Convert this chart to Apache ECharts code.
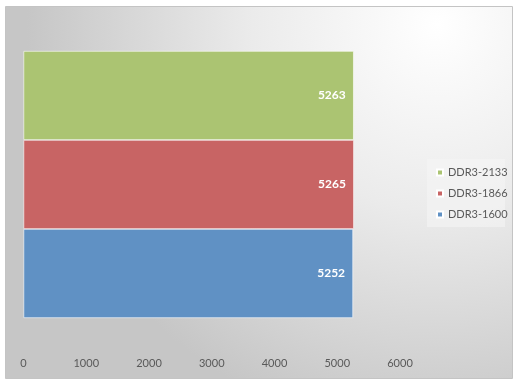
<!DOCTYPE html>
<html><head><meta charset="utf-8">
<script src="https://cdn.jsdelivr.net/npm/echarts@6/dist/echarts.min.js"></script>
<style>html,body{margin:0;padding:0;background:#fff}#c{width:518px;height:385px}</style>
</head><body><div id="c"></div>
<script>
const categories = ['DDR3'];
const seriesNames = ['DDR3-2133', 'DDR3-1866', 'DDR3-1600'];
const seriesValues = [[5263], [5265], [5252]];
const seriesColors = ['#abc472', '#c86464', '#6091c4'];
const legendOrder = ['DDR3-2133', 'DDR3-1866', 'DDR3-1600'];
const xTicks = [0, 1000, 2000, 3000, 4000, 5000, 6000];

const chart = echarts.init(document.getElementById('c'));
chart.setOption({
  backgroundColor: '#ffffff',
  animation: false,
  graphic: [{
    type: 'rect', z: -10, silent: true,
    shape: {x: 5.5, y: 6.5, width: 507, height: 372},
    style: {
      fill: {type: 'radial', x: 0.85, y: 0.05, r: 1.1,
        colorStops: [{offset: 0, color: '#ffffff'}, {offset: 0.45, color: '#ebebeb'}, {offset: 1, color: '#c6c6c6'}]},
      stroke: '#c4c4c4', lineWidth: 1
    }
  }, {
    type: 'rect', z: -5, silent: true,
    shape: {x: 427, y: 159, width: 78, height: 68},
    style: {fill: 'rgba(245,245,245,0.6)'}
  }],
  legend: {
    data: legendOrder, orient: 'vertical', left: 431, top: 162,
    itemWidth: 6, itemHeight: 6, itemGap: 10, icon: 'rect',
    textStyle: {color: '#595959', fontSize: 11, fontFamily: 'Lato'}
  },
  grid: {left: 23.5, top: 51, width: 376.5, height: 267},
  xAxis: {
    type: 'value', min: 0, max: 6000, interval: 1000,
    axisLine: {show: false}, axisTick: {show: false}, splitLine: {show: false},
    axisLabel: {color: '#595959', fontSize: 11, fontFamily: 'Lato', margin: 40,
      customValues: xTicks, formatter: v => String(v)}
  },
  yAxis: {
    type: 'category', data: categories,
    axisLine: {show: false}, axisTick: {show: false}, axisLabel: {show: false}
  },
  series: seriesNames.map((n, i) => ({
    name: n, type: 'bar', data: seriesValues[i],
    barGap: '0%', barCategoryGap: '0%',
    itemStyle: {color: seriesColors[i], borderColor: '#ffffff', borderWidth: 0.6},
    label: {show: true, position: 'insideRight', distance: 8, color: '#ffffff',
      fontWeight: 'bold', fontSize: 12, fontFamily: 'Lato', formatter: p => String(p.value)}
  }))
});
</script></body></html>
